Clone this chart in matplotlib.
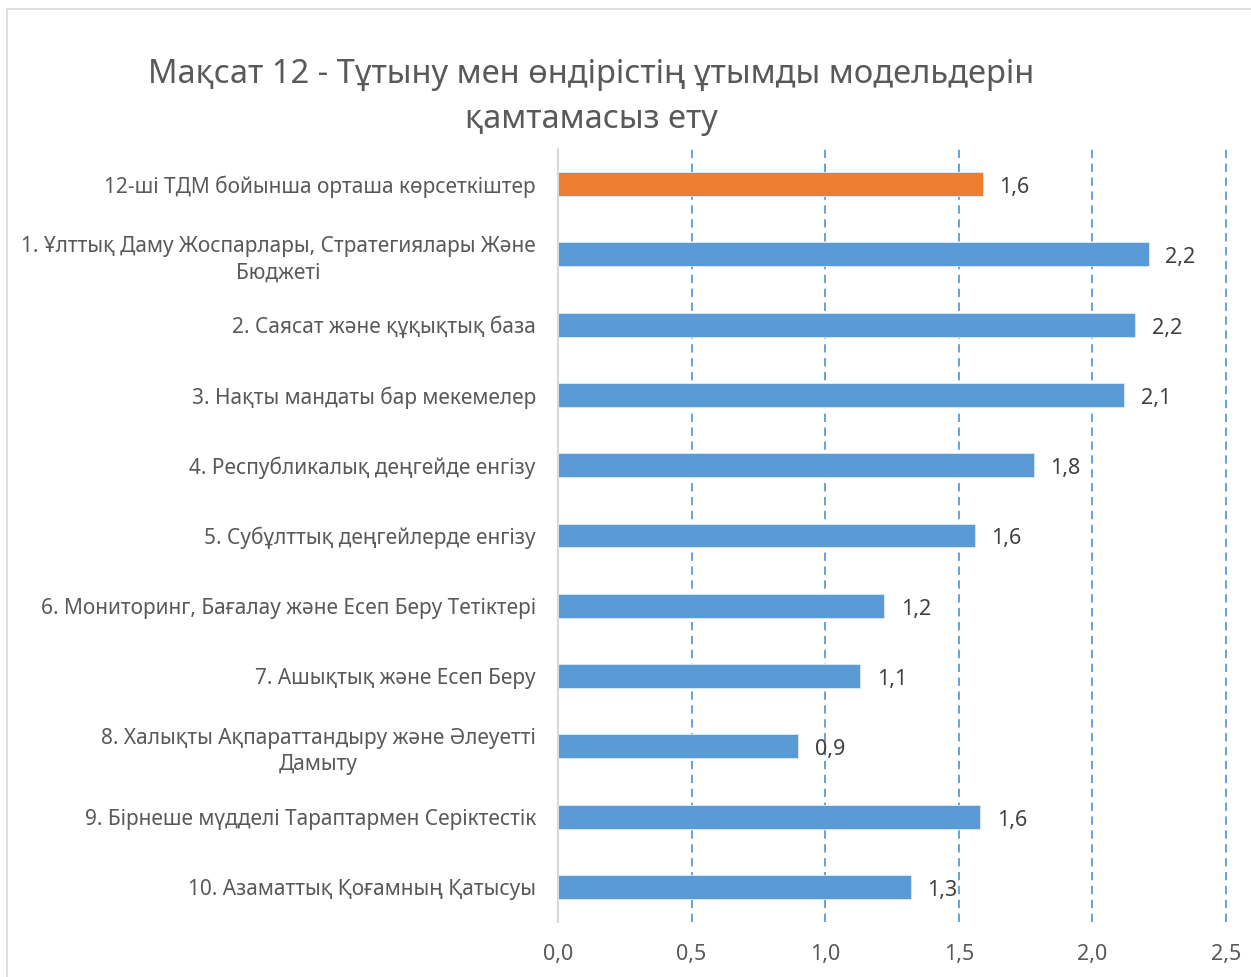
import matplotlib
matplotlib.use("Agg")
import matplotlib.pyplot as plt
from matplotlib.patches import Rectangle


TITLE = "Мақсат 12 - Тұтыну мен өндірістің ұтымды модельдерін\nқамтамасыз ету"

categories = [
    "12-ші ТДМ бойынша орташа көрсеткіштер",
    "1. Ұлттық Даму Жоспарлары, Стратегиялары Және\nБюджеті",
    "2. Саясат және құқықтық база",
    "3. Нақты мандаты бар мекемелер",
    "4. Республикалық деңгейде енгізу",
    "5. Субұлттық деңгейлерде енгізу",
    "6. Мониторинг, Бағалау және Есеп Беру Тетіктері",
    "7. Ашықтық және Есеп Беру",
    "8. Халықты Ақпараттандыру және Әлеуетті\nДамыту",
    "9. Бірнеше мүдделі Тараптармен Серіктестік",
    "10. Азаматтық Қоғамның Қатысуы",
]

scores = [1.59, 2.21, 2.16, 2.12, 1.78, 1.56, 1.22, 1.13, 0.90, 1.58, 1.32]

x_ticks = [0.0, 0.5, 1.0, 1.5, 2.0, 2.5]

AVERAGE_COLOR = "#ED7D31"
BAR_COLOR = "#5B9BD5"
TEXT_GREY = "#595959"
LABEL_DARK = "#404040"


def comma_fmt(value):
    # decimal comma, one digit, like the Excel source
    return f"{value:.1f}".replace(".", ",")


def main():
    plt.rcParams["font.family"] = ["Noto Sans", "DejaVu Sans"]
    plt.rcParams["lines.scale_dashes"] = False

    fig = plt.figure(figsize=(12.51, 9.77), dpi=100)
    fig.patch.set_facecolor("white")

    # light frame round the chart area
    fig.patches.append(Rectangle((7 / 1251, -0.01), 1.0, 1 - 9 / 977 + 0.01,
                                 transform=fig.transFigure, fill=False,
                                 edgecolor="#D9D9D9", linewidth=1.2))

    ax = fig.add_axes([558 / 1251, 1 - 922 / 977, 668 / 1251, 773 / 977])

    positions = list(range(len(categories)))
    colors = [AVERAGE_COLOR] + [BAR_COLOR] * (len(categories) - 1)

    ax.barh(positions, scores, height=0.34, color=colors,
            edgecolor="#DDEBF7", linewidth=0.6, zorder=3)

    for pos, val in zip(positions, scores):
        ax.annotate(comma_fmt(val), xy=(val, pos), xytext=(12, -2.5),
                    textcoords="offset points", ha="left", va="center",
                    fontsize=15.5, color=LABEL_DARK, zorder=4)

    # dashed vertical gridlines (the zero line is the grey axis)
    for xt in x_ticks[1:]:
        ax.axvline(xt, color=BAR_COLOR, linewidth=1.3,
                   linestyle=(0, (6, 4)), zorder=1, clip_on=False)

    ax.set_xlim(0, 2.5)
    ax.set_ylim(len(categories) - 0.5, -0.5)

    ax.set_xticks(x_ticks)
    ax.set_xticklabels([comma_fmt(t) for t in x_ticks])
    ax.set_yticks(positions)
    ax.set_yticklabels(categories)

    ax.tick_params(axis="x", length=0, pad=16, labelsize=15.5, labelcolor=TEXT_GREY)
    ax.tick_params(axis="y", length=0, pad=16, labelsize=15, labelcolor=TEXT_GREY)
    for lbl in ax.get_yticklabels():
        lbl.set_multialignment("center")
        lbl.set_linespacing(1.35)

    for side in ["top", "right", "bottom"]:
        ax.spines[side].set_visible(False)
    ax.spines["left"].set_color("#D9D9D9")
    ax.spines["left"].set_linewidth(1.5)
    ax.spines["left"].set_zorder(5)

    fig.text(591 / 1251, 1 - 97 / 977, TITLE, ha="center", va="center",
             fontsize=23.5, color=TEXT_GREY, linespacing=1.5)

    fig.savefig("out.png", dpi=100)
    plt.close(fig)


if __name__ == "__main__":
    main()
